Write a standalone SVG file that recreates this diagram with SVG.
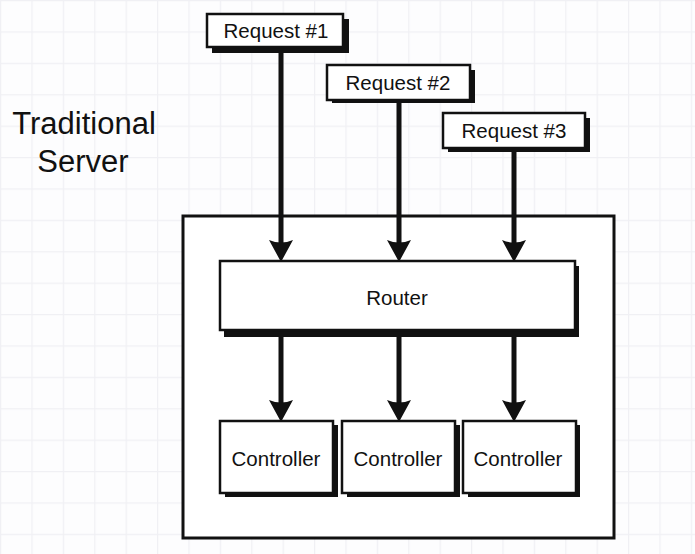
<svg xmlns="http://www.w3.org/2000/svg" width="695" height="554" viewBox="0 0 695 554">
<style>
.lbl{font-family:"Liberation Sans",Arial,sans-serif;font-size:20.5px;fill:#111;text-anchor:middle}
.title{font-family:"Liberation Sans",Arial,sans-serif;font-size:31px;fill:#111;text-anchor:middle}
.box{fill:#fff;stroke:#111;stroke-width:2.5}
.shadow{fill:#111}
.outer{fill:#fff;stroke:#111;stroke-width:3}
.conn{stroke:#111;stroke-width:5;fill:none;marker-end:url(#head)}
</style>
<defs>
<pattern id="grid" width="31.4" height="31.4" patternUnits="userSpaceOnUse">
<path d="M0.5,0 V31.4 M0,0.5 H31.4" stroke="#f0f0f4" stroke-width="1.5" fill="none"/>
</pattern>
<marker id="head" markerUnits="userSpaceOnUse" viewBox="0 -13 23 26" refX="10" refY="0" markerWidth="23" markerHeight="26" orient="auto">
<path d="M22,0 L0,-12 Q5,0 0,12 Z" fill="#111"/>
</marker>
</defs>
<rect width="695" height="554" fill="#fdfdfe"/>
<rect width="695" height="554" fill="url(#grid)"/>
<g id="title">
<text class="title" x="84" y="134">Traditional</text>
<text class="title" x="83" y="172">Server</text>
</g>
<g id="server">
<rect class="outer" x="183" y="216" width="431" height="322"/>
</g>
<g id="connectors">
<line class="conn" x1="281" y1="47" x2="281" y2="250"/>
<line class="conn" x1="399" y1="100" x2="399" y2="250"/>
<line class="conn" x1="514" y1="148" x2="514" y2="250"/>
<line class="conn" x1="281" y1="332" x2="281" y2="410"/>
<line class="conn" x1="399" y1="332" x2="399" y2="410"/>
<line class="conn" x1="514" y1="332" x2="514" y2="410"/>
</g>
<g id="request1">
<rect class="shadow" x="212" y="19" width="137" height="34"/>
<rect class="box" x="207" y="14" width="136" height="33"/>
<text class="lbl" x="276" y="38">Request #1</text>
</g>
<g id="request2">
<rect class="shadow" x="332" y="70" width="143" height="33"/>
<rect class="box" x="327" y="65" width="143" height="35"/>
<text class="lbl" x="398" y="90">Request #2</text>
</g>
<g id="request3">
<rect class="shadow" x="448" y="118" width="142" height="34"/>
<rect class="box" x="443" y="113" width="142" height="35"/>
<text class="lbl" x="514" y="138">Request #3</text>
</g>
<g id="router">
<rect class="shadow" x="224" y="266" width="355" height="71"/>
<rect class="box" x="220" y="261" width="355" height="69"/>
<text class="lbl" x="397" y="305">Router</text>
</g>
<g id="controller1">
<rect class="shadow" x="225" y="425" width="113" height="72"/>
<rect class="box" x="220" y="421" width="113" height="72"/>
<text class="lbl" x="276" y="466">Controller</text>
</g>
<g id="controller2">
<rect class="shadow" x="347" y="425" width="113" height="72"/>
<rect class="box" x="342" y="421" width="113" height="72"/>
<text class="lbl" x="398" y="466">Controller</text>
</g>
<g id="controller3">
<rect class="shadow" x="468" y="425" width="112" height="72"/>
<rect class="box" x="463" y="421" width="113" height="72"/>
<text class="lbl" x="518" y="466">Controller</text>
</g>
</svg>
